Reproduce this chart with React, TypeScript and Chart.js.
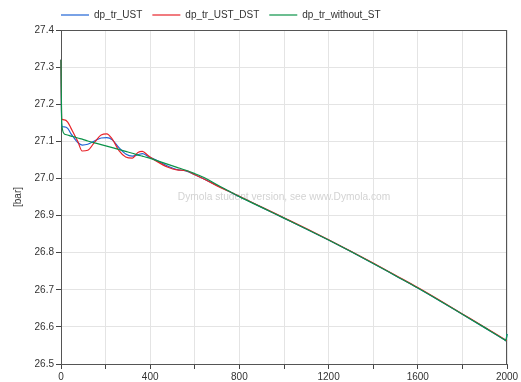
import React, { useEffect, useRef } from 'react';
import { Chart, registerables } from 'chart.js';

Chart.register(...registerables);

const times = [0, 3, 15, 30, 45, 60, 75, 95, 120, 150, 180, 205, 230, 260, 290, 320, 345, 365, 390, 430, 480, 520, 560, 600, 650, 700, 750, 800, 900, 1000, 1100, 1200, 1300, 1400, 1500, 1600, 1700, 1800, 1900, 1990, 1995, 2000];

const dpTrUST = [27.32, 27.14, 27.139, 27.135, 27.12, 27.108, 27.097, 27.09, 27.092, 27.101,
  27.109, 27.11, 27.104, 27.083, 27.066, 27.06, 27.064, 27.067, 27.06, 27.048,
  27.033, 27.024, 27.02, 27.01, 26.996, 26.981, 26.966, 26.951, 26.922, 26.893,
  26.864, 26.834, 26.803, 26.771, 26.738, 26.705, 26.67, 26.634, 26.598, 26.565, 26.563,
  26.581];

const dpTrUSTDST = [27.32, 27.16, 27.158, 27.152, 27.135, 27.118, 27.1, 27.074, 27.076, 27.097,
  27.117, 27.12, 27.106, 27.075, 27.058, 27.055, 27.07, 27.073, 27.062, 27.046,
  27.03, 27.023, 27.021, 27.01, 26.996, 26.98, 26.966, 26.952, 26.923, 26.894,
  26.865, 26.835, 26.804, 26.772, 26.739, 26.706, 26.671, 26.635, 26.599, 26.566, 26.564,
  26.563];

const dpTrWithoutST = [27.32, 27.15, 27.12, 27.117, 27.114, 27.112, 27.109, 27.106, 27.101, 27.096,
  27.091, 27.087, 27.083, 27.078, 27.073, 27.068, 27.063, 27.06, 27.056, 27.048,
  27.038, 27.03, 27.022, 27.013, 27.0, 26.983, 26.967, 26.951, 26.922, 26.893,
  26.864, 26.834, 26.803, 26.771, 26.738, 26.705, 26.67, 26.634, 26.598, 26.565, 26.563,
  26.581];

const seriesNames = ['dp_tr_UST', 'dp_tr_UST_DST', 'dp_tr_without_ST'];
const seriesColors = ['#2164d6', '#e8242a', '#0a9348'];
const yTitle = '[bar]';
const watermark = 'Dymola student version, see www.Dymola.com';

const FONT = '"Liberation Sans", Arial, Helvetica, sans-serif';

const framePlugin = {
  id: 'frame',
  beforeDraw(chart: any) {
    if (chart.legend) chart.legend.left = chart.chartArea.left - 10;
  },
  beforeDatasetsDraw(chart: any) {
    const { ctx, chartArea: a } = chart;
    ctx.save();
    ctx.font = '10.2px ' + FONT;
    ctx.fillStyle = '#d3d3d3';
    ctx.textAlign = 'center';
    ctx.textBaseline = 'middle';
    ctx.fillText(watermark, (a.left + a.right) / 2, (a.top + a.bottom) / 2);
    ctx.strokeStyle = '#555';
    ctx.lineWidth = 1;
    ctx.beginPath();
    ctx.moveTo(a.left, Math.round(a.top) + 0.5);
    ctx.lineTo(a.right, Math.round(a.top) + 0.5);
    ctx.moveTo(Math.round(a.right) - 0.5, a.top);
    ctx.lineTo(Math.round(a.right) - 0.5, a.bottom);
    ctx.stroke();
    ctx.restore();
  },
};

export default function App() {
  const ref = useRef<HTMLCanvasElement | null>(null);
  useEffect(() => {
    document.body.style.margin = '0';
    const canvas = ref.current;
    if (!canvas) return;
    const mk = (vals: number[]) => times.map((t, i) => ({ x: t, y: vals[i] }));
    const all = [dpTrUST, dpTrUSTDST, dpTrWithoutST];
    const chart = new Chart(canvas, {
      type: 'line',
      data: {
        datasets: all.map((vals, i) => ({
          label: seriesNames[i],
          data: mk(vals),
          borderColor: seriesColors[i],
          backgroundColor: seriesColors[i],
          borderWidth: 1.2,
          pointRadius: 0,
          pointStyle: 'line',
          cubicInterpolationMode: 'monotone' as const,
          fill: false,
          clip: false,
          order: 3 - i,
        })),
      },
      options: {
        animation: false,
        responsive: false,
        layout: { padding: { top: 0, right: 14, bottom: 0, left: 0 } },
        plugins: {
          legend: {
            position: 'top',
            align: 'start',
            reverse: true,
            labels: {
              usePointStyle: true,
              pointStyle: 'line',
              pointStyleWidth: 28,
              boxWidth: 28,
              padding: 10,
              color: '#333',
              font: { size: 10, family: FONT },
            },
          },
          tooltip: { enabled: false },
        },
        scales: {
          x: {
            type: 'linear',
            min: 0,
            max: 2000,
            ticks: {
              stepSize: 200,
              autoSkip: false,
              maxRotation: 0,
              padding: 2,
              color: '#333',
              font: { size: 10, family: FONT },
              callback: (v: any) => (Number(v) % 400 === 0 ? String(v) : ''),
            },
            grid: { color: '#e4e4e4', tickColor: '#444', tickLength: 5 },
            border: { color: '#555' },
            afterFit: (s: any) => { s.height = 18; },
          },
          y: {
            type: 'linear',
            min: 26.5,
            max: 27.4,
            ticks: {
              stepSize: 0.1,
              padding: 2,
              color: '#333',
              font: { size: 10, family: FONT },
              callback: (v: any) => Number(v).toFixed(1),
            },
            grid: { color: '#e4e4e4', tickColor: '#444', tickLength: 5 },
            border: { color: '#555' },
            title: { display: true, text: yTitle, color: '#333', font: { size: 10, family: FONT }, padding: { top: 12, bottom: 0 } },
            afterFit: (s: any) => { s.width = 61; },
          },
        },
      },
      plugins: [framePlugin],
    });
    return () => chart.destroy();
  }, []);
  return (
    <div style={{ position: 'fixed', left: 0, top: 0, width: 521, height: 382 }}>
      <canvas ref={ref} width={521} height={382} />
    </div>
  );
}
